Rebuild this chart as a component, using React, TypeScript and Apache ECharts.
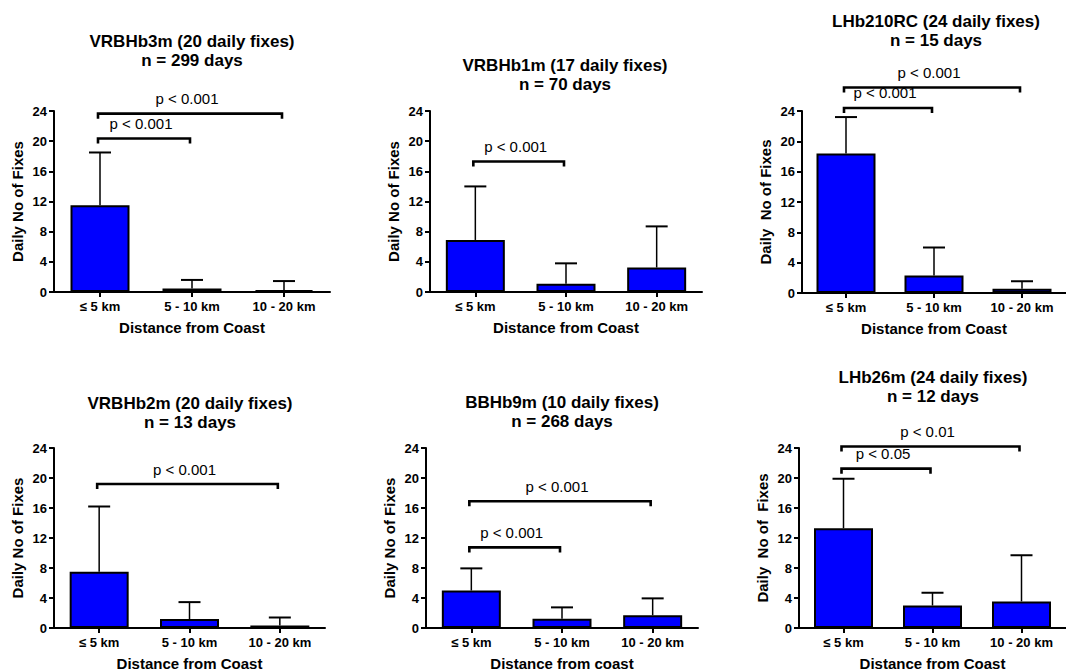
import React, { useEffect, useRef } from "react";
import * as echarts from "echarts";

// Distance bands shared by every panel
const categories = ["≤ 5 km", "5 - 10 km", "10 - 20 km"];

// Y scale (daily number of fixes)
const yMin = 0;
const yMax = 24;
const yStep = 4;

// Per-animal means and mean + SD (top of the error bar)
const vrbhb3mMean = [11.5, 0.45, 0.25];
const vrbhb3mUpper = [18.5, 1.6, 1.45];

const vrbhb1mMean = [6.9, 1.1, 3.25];
const vrbhb1mUpper = [14.0, 3.8, 8.7];

const lhb210rcMean = [18.4, 2.3, 0.55];
const lhb210rcUpper = [23.2, 6.0, 1.55];

const vrbhb2mMean = [7.5, 1.2, 0.35];
const vrbhb2mUpper = [16.2, 3.45, 1.4];

const bbhb9mMean = [5.0, 1.25, 1.7];
const bbhb9mUpper = [7.95, 2.75, 3.95];

const lhb26mMean = [13.3, 3.0, 3.55];
const lhb26mUpper = [19.9, 4.7, 9.7];

// Significance brackets: [from category, to category, bracket height, label]
const vrbhb3mTests: [number, number, number, string][] = [
  [0, 2, 23.65, "p < 0.001"],
  [0, 1, 20.35, "p < 0.001"],
];
const vrbhb1mTests: [number, number, number, string][] = [[0, 1, 17.3, "p < 0.001"]];
const lhb210rcTests: [number, number, number, string][] = [
  [0, 2, 27.1, "p < 0.001"],
  [0, 1, 24.4, "p < 0.001"],
];
const vrbhb2mTests: [number, number, number, string][] = [[0, 2, 19.2, "p < 0.001"]];
const bbhb9mTests: [number, number, number, string][] = [
  [0, 2, 16.9, "p < 0.001"],
  [0, 1, 10.75, "p < 0.001"],
];
const lhb26mTests: [number, number, number, string][] = [
  [0, 2, 24.2, "p < 0.01"],
  [0, 1, 21.25, "p < 0.05"],
];

const panels = [
  {
    title: "VRBHb3m (20 daily fixes)",
    sub: "n = 299 days",
    yName: "Daily No of Fixes",
    xName: "Distance from Coast",
    mean: vrbhb3mMean,
    upper: vrbhb3mUpper,
    tests: vrbhb3mTests,
  },
  {
    title: "VRBHb1m (17 daily fixes)",
    sub: "n = 70 days",
    yName: "Daily No of Fixes",
    xName: "Distance from Coast",
    mean: vrbhb1mMean,
    upper: vrbhb1mUpper,
    tests: vrbhb1mTests,
  },
  {
    title: "LHb210RC (24 daily fixes)",
    sub: "n = 15 days",
    yName: "Daily  No of Fixes",
    xName: "Distance from Coast",
    mean: lhb210rcMean,
    upper: lhb210rcUpper,
    tests: lhb210rcTests,
  },
  {
    title: "VRBHb2m (20 daily fixes)",
    sub: "n = 13 days",
    yName: "Daily No of Fixes",
    xName: "Distance from Coast",
    mean: vrbhb2mMean,
    upper: vrbhb2mUpper,
    tests: vrbhb2mTests,
  },
  {
    title: "BBHb9m (10 daily fixes)",
    sub: "n = 268 days",
    yName: "Daily No of Fixes",
    xName: "Distance from coast",
    mean: bbhb9mMean,
    upper: bbhb9mUpper,
    tests: bbhb9mTests,
  },
  {
    title: "LHb26m (24 daily fixes)",
    sub: "n = 12 days",
    yName: "Daily  No of  Fixes",
    xName: "Distance from Coast",
    mean: lhb26mMean,
    upper: lhb26mUpper,
    tests: lhb26mTests,
  },
];

// Plot-area placement of each panel (pixels) and title centre line
const layouts = [
  { left: 54, top: 111, width: 276, height: 181, titleX: 192, titleY: 41 },
  { left: 430, top: 111, width: 272, height: 181, titleX: 565, titleY: 65 },
  { left: 802, top: 111, width: 273, height: 182, titleX: 936, titleY: 21 },
  { left: 54, top: 448, width: 271, height: 180, titleX: 190, titleY: 403 },
  { left: 426, top: 448, width: 272, height: 180, titleX: 562, titleY: 402 },
  { left: 799, top: 448, width: 271, height: 181, titleX: 933, titleY: 377 },
];
const TITLE_GAP = 19.5;

const FONT = "'Liberation Sans', Arial, Helvetica, sans-serif";
const BAR_BLUE = "#0000ff";

function buildOption() {
  const grid: any[] = [];
  const xAxis: any[] = [];
  const yAxis: any[] = [];
  const series: any[] = [];
  const graphic: any[] = [];

  panels.forEach((p, i) => {
    const L = layouts[i];
    grid.push({ left: L.left, top: L.top, width: L.width, height: L.height, containLabel: false });

    xAxis.push({
      type: "category",
      gridIndex: i,
      data: categories,
      boundaryGap: true,
      axisLine: { show: true, lineStyle: { color: "#000", width: 2 } },
      axisTick: { show: true, alignWithLabel: true, length: 5, lineStyle: { color: "#000", width: 2 } },
      axisLabel: { color: "#000", fontFamily: FONT, fontWeight: "bold", fontSize: 13, margin: 8 },
      name: p.xName,
      nameLocation: "middle",
      nameGap: 28,
      nameTextStyle: { color: "#000", fontFamily: FONT, fontWeight: "bold", fontSize: 15 },
      splitLine: { show: false },
    });

    yAxis.push({
      type: "value",
      gridIndex: i,
      min: yMin,
      max: yMax,
      interval: yStep,
      axisLine: { show: true, lineStyle: { color: "#000", width: 2 } },
      axisTick: { show: true, length: 5, lineStyle: { color: "#000", width: 2 } },
      axisLabel: { color: "#000", fontFamily: FONT, fontWeight: "bold", fontSize: 13, margin: 7 },
      splitLine: { show: false },
      name: p.yName,
      nameLocation: "middle",
      nameRotate: 90,
      nameGap: 29,
      nameTextStyle: { color: "#000", fontFamily: FONT, fontWeight: "bold", fontSize: 15 },
    });

    series.push({
      type: "bar",
      xAxisIndex: i,
      yAxisIndex: i,
      data: p.mean,
      barWidth: 59,
      z: 3,
      itemStyle: { color: BAR_BLUE, borderColor: "#000", borderWidth: 2 },
    });

    // Error bars (upper whisker only)
    series.push({
      type: "custom",
      xAxisIndex: i,
      yAxisIndex: i,
      z: 2,
      data: p.mean.map((m, k) => [k, m, p.upper[k]]),
      encode: { x: 0, y: [1, 2] },
      renderItem: (_params: any, api: any) => {
        const base = api.coord([api.value(0), api.value(1)]);
        const top = api.coord([api.value(0), api.value(2)]);
        return {
          type: "group",
          children: [
            {
              type: "line",
              shape: { x1: base[0], y1: base[1], x2: top[0], y2: top[1] },
              style: { stroke: "#000", lineWidth: 1.5 },
            },
            {
              type: "line",
              shape: { x1: top[0] - 11, y1: top[1], x2: top[0] + 11, y2: top[1] },
              style: { stroke: "#000", lineWidth: 2 },
            },
          ],
        };
      },
    });

    // Significance brackets with p-value labels
    const tests = p.tests;
    series.push({
      type: "custom",
      xAxisIndex: i,
      yAxisIndex: i,
      z: 4,
      clip: false,
      data: tests.map((t) => [t[0], t[1], t[2]]),
      encode: { x: [0, 1], y: 2 },
      renderItem: (params: any, api: any) => {
        const a = api.coord([api.value(0), api.value(2)]);
        const b = api.coord([api.value(1), api.value(2)]);
        const x1 = a[0] - 2;
        const x2 = b[0] - 2;
        const y = a[1];
        return {
          type: "group",
          children: [
            {
              type: "polyline",
              shape: { points: [[x1, y + 5], [x1, y], [x2, y], [x2, y + 5]] },
              style: { stroke: "#000", lineWidth: 2.6, fill: "none", lineJoin: "miter" },
            },
            {
              type: "text",
              x: (x1 + x2) / 2 - 3,
              y: y - 15,
              style: {
                text: tests[params.dataIndex][3],
                fill: "#000",
                font: `15px ${FONT}`,
                align: "center",
                verticalAlign: "middle",
              },
            },
          ],
        };
      },
    });

    // Two-line panel title
    graphic.push({
      type: "text",
      x: L.titleX,
      y: L.titleY,
      style: {
        text: p.title,
        fill: "#000",
        font: `bold 17px ${FONT}`,
        align: "center",
        verticalAlign: "middle",
      },
    });
    graphic.push({
      type: "text",
      x: L.titleX,
      y: L.titleY + TITLE_GAP,
      style: {
        text: p.sub,
        fill: "#000",
        font: `bold 17px ${FONT}`,
        align: "center",
        verticalAlign: "middle",
      },
    });
  });

  return {
    animation: false,
    backgroundColor: "#ffffff",
    textStyle: { fontFamily: FONT },
    grid,
    xAxis,
    yAxis,
    series,
    graphic,
  };
}

export default function App() {
  const ref = useRef<HTMLDivElement>(null);

  useEffect(() => {
    if (!ref.current) return;
    const chart = echarts.init(ref.current, undefined, { renderer: "svg" });
    chart.setOption(buildOption());
    return () => chart.dispose();
  }, []);

  return (
    <div
      ref={ref}
      style={{ position: "fixed", left: 0, top: 0, width: 1066, height: 672, background: "#fff" }}
    />
  );
}
